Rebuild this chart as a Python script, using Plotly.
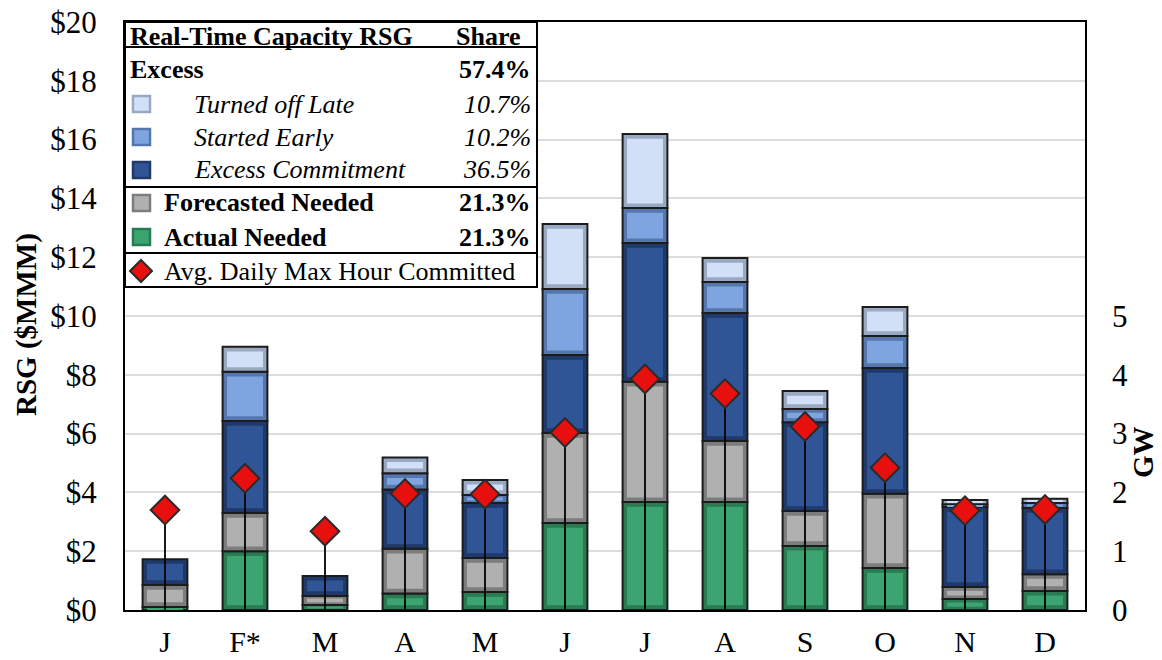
import plotly.graph_objects as go

# monthly real-time capacity RSG, $MMM per segment (bottom to top)
months = ["J", "F*", "M", "A", "M", "J", "J", "A", "S", "O", "N", "D"]
actual_needed = [0.10, 2.00, 0.17, 0.56, 0.61, 2.96, 3.67, 3.67, 2.18, 1.43, 0.37, 0.65]
forecasted_needed = [0.75, 1.30, 0.31, 1.52, 1.16, 3.06, 4.09, 2.08, 1.19, 2.52, 0.41, 0.57]
excess_commitment = [0.88, 3.13, 0.68, 2.02, 1.87, 2.65, 4.72, 4.35, 3.02, 4.28, 2.72, 2.25]
started_early = [0.0, 1.67, 0.0, 0.55, 0.27, 2.25, 1.19, 1.06, 0.45, 1.09, 0.10, 0.17]
turned_off_late = [0.0, 0.85, 0.0, 0.54, 0.51, 2.21, 2.52, 0.81, 0.61, 0.99, 0.14, 0.14]
# avg daily max hour committed, GW
max_hour_gw = [1.70, 2.24, 1.34, 1.98, 1.97, 3.02, 3.93, 3.68, 3.12, 2.42, 1.69, 1.71]

# legend table rows
legend_rows = [
    ("Turned off Late", "10.7%"),
    ("Started Early", "10.2%"),
    ("Excess Commitment", "36.5%"),
]
needed_rows = [("Forecasted Needed", "21.3%"), ("Actual Needed", "21.3%")]
excess_share = "57.4%"

# (face colour, bevel edge colour)
GREEN = ("#3ba470", "#2a7a52")
GRAY = ("#b0b0b0", "#7d7d7d")
DARK_BLUE = ("#2f5596", "#1f3a6a")
MID_BLUE = ("#7fa5e0", "#5677ad")
LIGHT_BLUE = ("#d2e0f7", "#9aa9c2")
EDGE = "#1c1c1c"
FONT = "Liberation Serif, Times New Roman, Times, serif"

x = list(range(len(months)))

segments = [
    (actual_needed, GREEN),
    (forecasted_needed, GRAY),
    (excess_commitment, DARK_BLUE),
    (started_early, MID_BLUE),
    (turned_off_late, LIGHT_BLUE),
]

fig = go.Figure()

# outer (bevel) bars, then inner faces
bases = [0.0] * len(x)
inner = []
for vals, (face, edge) in segments:
    fig.add_trace(go.Bar(
        x=x, y=[v if v > 0 else None for v in vals], base=bases,
        marker=dict(color=edge, line=dict(color=EDGE, width=2)),
        width=0.56, showlegend=False,
    ))
    ins = [min(0.16, v * 0.3) for v in vals]
    inner.append(go.Bar(
        x=x, y=[v - 2 * i if v > 0 else None for v, i in zip(vals, ins)],
        base=[b + i for b, i in zip(bases, ins)],
        marker=dict(color=face, line=dict(width=0)),
        width=0.45, showlegend=False,
    ))
    bases = [b + v for b, v in zip(bases, vals)]
for tr in inner:
    fig.add_trace(tr)

fig.add_trace(go.Scatter(
    x=x, y=max_hour_gw, yaxis="y2", mode="markers",
    marker=dict(symbol="diamond", size=22, color="#e8100f",
                line=dict(color="#2a2a2a", width=2)),
    error_y=dict(type="data", symmetric=False, array=[0] * len(x),
                 arrayminus=max_hour_gw, width=0, thickness=1.8, color="black"),
    showlegend=False,
))

# ---- legend table drawn in paper space ----
# screen coords of the plot area; the page body adds an 8px offset
OFF = 8
L, R, T, B = 125, 1085, 22, 610
W, H = 1162 - OFF, 660 - OFF


def px(xp):
    return (xp - L) / (R - L)


def py(yp):
    return (B - yp) / (B - T)


shapes = [dict(type="rect", xref="paper", yref="paper", x0=px(125), x1=px(537),
               y0=py(287), y1=py(22), fillcolor="white",
               line=dict(color="black", width=2), layer="above")]
for yl in (47, 187, 253):
    shapes.append(dict(type="line", xref="paper", yref="paper", x0=px(125), x1=px(537),
                       y0=py(yl), y1=py(yl), line=dict(color="black", width=2)))


def square(cy, colors):
    shapes.append(dict(type="rect", xref="paper", yref="paper",
                       x0=px(133), x1=px(150), y0=py(cy + 8), y1=py(cy - 8),
                       fillcolor=colors[0], line=dict(color=colors[1], width=2.5)))


annotations = []


def text(xp, yp, s, anchor="left", bold=False, italic=False, size=26):
    if bold:
        s = "<b>" + s + "</b>"
    if italic:
        s = "<i>" + s + "</i>"
    annotations.append(dict(xref="paper", yref="paper", x=px(xp), y=py(yp), text=s,
                            xanchor=anchor, yanchor="middle", showarrow=False,
                            font=dict(family=FONT, size=size, color="black")))


text(128, 36, "Real-Time Capacity RSG", bold=True)
text(523, 36, "Share", anchor="right", bold=True)
text(128, 70, "Excess", bold=True)
text(533, 70, excess_share, anchor="right", bold=True)
for (label, share), cy, colors in zip(legend_rows, (104, 137, 170),
                                      (LIGHT_BLUE, MID_BLUE, DARK_BLUE)):
    square(cy, colors)
    text(192, cy, label, italic=True)
    text(533, cy, share, anchor="right", italic=True)
for (label, share), cy, colors in zip(needed_rows, (203, 237), (GRAY, GREEN)):
    square(cy, colors)
    text(162, cy, label, bold=True)
    text(533, cy, share, anchor="right", bold=True)
cx, cy, h = 141, 271, 11
shapes.append(dict(type="path", xref="paper", yref="paper",
                   path=f"M {px(cx - h)},{py(cy)} L {px(cx)},{py(cy - h)} "
                        f"L {px(cx + h)},{py(cy)} L {px(cx)},{py(cy + h)} Z",
                   fillcolor="#e8100f", line=dict(color="#2a2a2a", width=2)))
text(162, 271, "Avg. Daily Max Hour Committed")

# axis titles placed by hand
annotations.append(dict(xref="paper", yref="paper", x=px(26), y=py(325),
                        text="<b>RSG ($MMM)</b>", textangle=-90, showarrow=False,
                        xanchor="center", yanchor="middle",
                        font=dict(family=FONT, size=29, color="black")))
annotations.append(dict(xref="paper", yref="paper", x=px(1143), y=py(452),
                        text="<b>GW</b>", textangle=-90, showarrow=False,
                        xanchor="center", yanchor="middle",
                        font=dict(family=FONT, size=29, color="black")))

fig.update_layout(
    width=W, height=H,
    margin=dict(l=L - OFF, r=W - (R - OFF), t=T - OFF, b=H - (B - OFF),
                autoexpand=False),
    paper_bgcolor="white", plot_bgcolor="white",
    barmode="overlay",
    font=dict(family=FONT, size=31, color="black"),
    xaxis=dict(tickvals=x, ticktext=months, range=[-0.5, 11.5],
               showline=True, linecolor="black", linewidth=2, mirror=True,
               ticks="", showgrid=False, automargin=False, ticklabelstandoff=4,
               tickfont=dict(size=30), ticklabeloverflow="allow"),
    yaxis=dict(range=[0, 20], dtick=2, tickprefix="$", showgrid=True,
               gridcolor="#dcdcdc", gridwidth=1.5, showline=True,
               linecolor="black", linewidth=2, mirror=True, ticks="",
               zeroline=False, automargin=False, ticklabelstandoff=20,
               ticklabeloverflow="allow"),
    yaxis2=dict(overlaying="y", side="right", range=[0, 10],
                tickvals=[0, 1, 2, 3, 4, 5], showgrid=False, zeroline=False,
                showline=False, ticks="", automargin=False, ticklabelstandoff=26,
                ticklabeloverflow="allow"),
    shapes=shapes, annotations=annotations,
)

fig.write_html("out.html")
